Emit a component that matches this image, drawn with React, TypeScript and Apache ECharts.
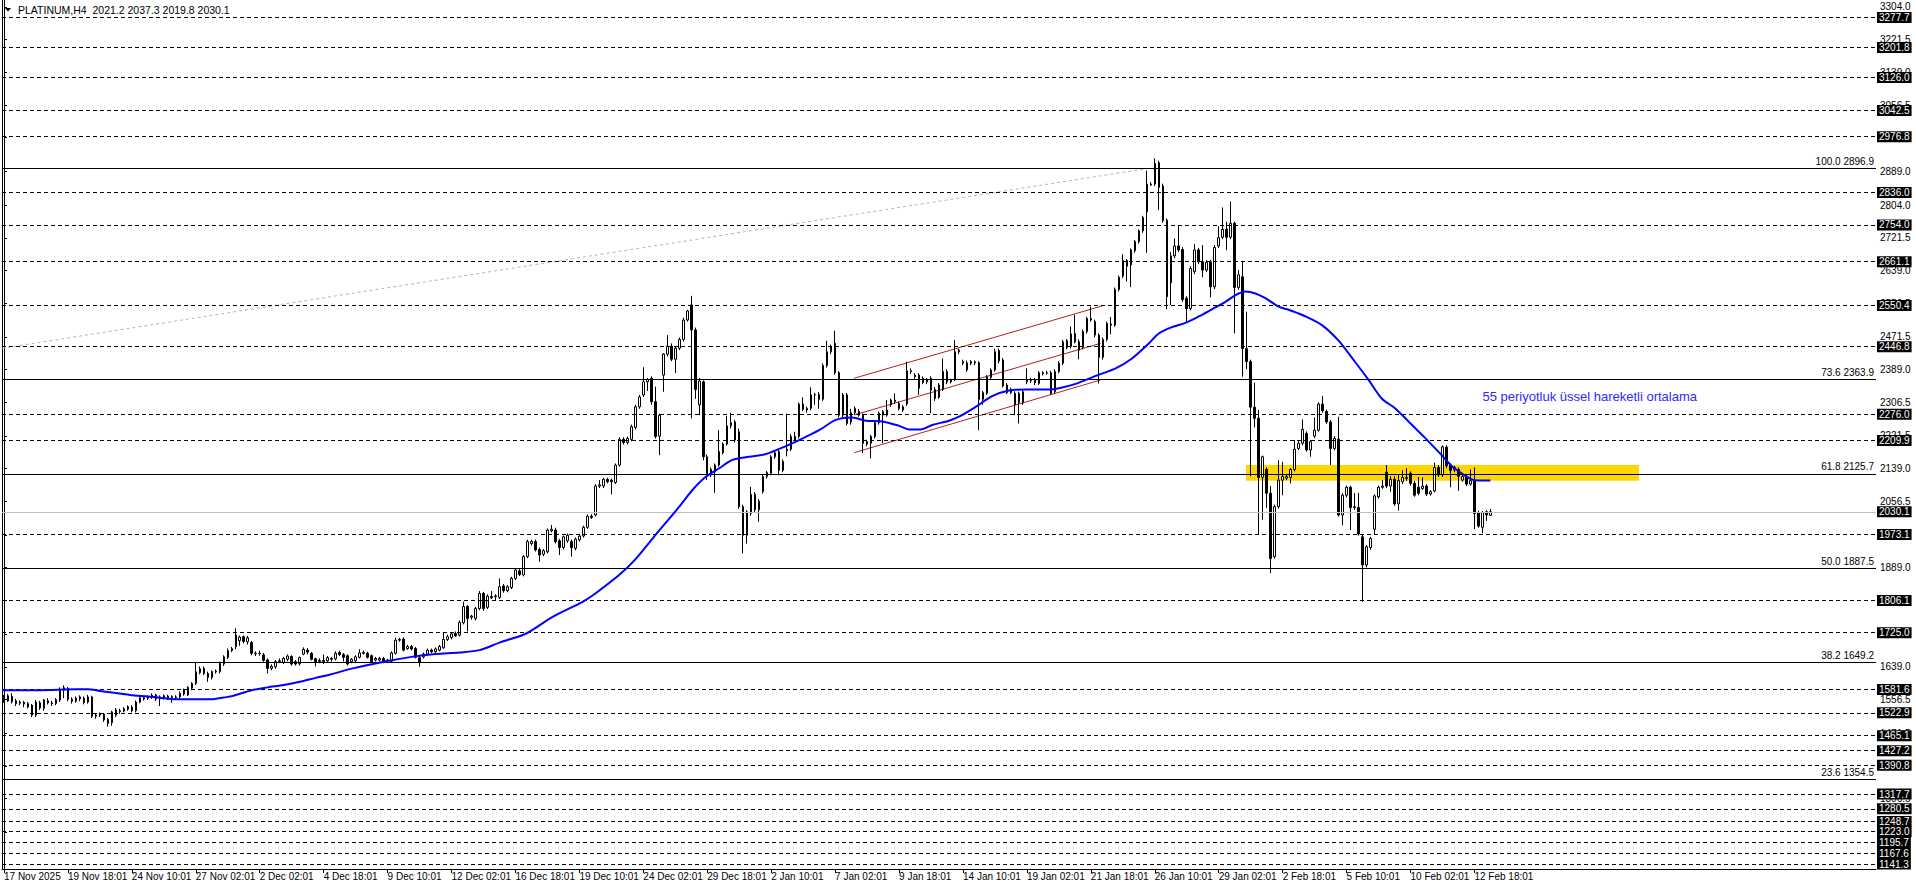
import React, { useEffect, useRef } from 'react';
import * as echarts from 'echarts';

const FONT = 'Liberation Sans, Arial, sans-serif';
const HEADER = 'PLATINUM,H4  2021.2 2037.3 2019.8 2030.1';
const EMA_NOTE = '55 periyotluk üssel hareketli ortalama';
const EMA_NOTE_AT: [number, number] = [370, 2322];

const N_SLOTS = 469; // bar slots across the chart width (data + empty right margin)
const LABEL_EVERY = 16;
const X_LABELS = [
  '17 Nov 2025', '19 Nov 18:01', '24 Nov 10:01', '27 Nov 02:01', '2 Dec 02:01', '4 Dec 18:01',
  '9 Dec 10:01', '12 Dec 02:01', '16 Dec 18:01', '19 Dec 10:01', '24 Dec 02:01', '29 Dec 18:01',
  '2 Jan 10:01', '7 Jan 02:01', '9 Jan 18:01', '14 Jan 10:01', '19 Jan 02:01', '21 Jan 18:01',
  '26 Jan 10:01', '29 Jan 02:01', '2 Feb 18:01', '5 Feb 10:01', '10 Feb 02:01', '12 Feb 18:01',
];

const Y_MIN = 1128.7;
const Y_MAX = 3321.6;
const Y_TICKS = [
  3304.0, 3221.5, 3139.0, 3056.5, 2974.0, 2889.0, 2804.0, 2721.5, 2639.0, 2556.5, 2471.5, 2389.0,
  2306.5, 2221.5, 2139.0, 2056.5, 1971.5, 1889.0, 1806.5, 1721.5, 1639.0, 1556.5, 1471.5, 1389.0,
  1306.5, 1221.5,
];

const DASHED_LEVELS = [
  3277.7, 3201.8, 3126.0, 3042.5, 2976.8, 2836.0, 2754.0, 2661.1, 2550.4, 2446.8, 2276.0, 2209.9,
  1973.1, 1806.1, 1725.0, 1581.6, 1522.9, 1465.1, 1427.2, 1390.8, 1317.7, 1280.5, 1248.7, 1223.0,
  1195.7, 1167.6, 1141.3,
];
const CURRENT_PRICE = 2030.1;

const FIB_RATIOS = ['100.0', '73.6', '61.8', '50.0', '38.2', '23.6'];
const FIB_PRICES = [2896.9, 2363.9, 2125.7, 1887.5, 1649.2, 1354.5];

const ZONE_X = [310.8, 409.2];
const ZONE_Y = [2108.7, 2148.2];

const FIB_DIAGONAL: [number, number][] = [[-0.5, 2442.7], [286.5, 2896.9]];
const CHANNEL_UPPER: [number, number][] = [[212.75, 2367.0], [274.8, 2549.5]];
const CHANNEL_MIDDLE: [number, number][] = [[212.75, 2274.4], [274.4, 2455.2]];
const CHANNEL_LOWER: [number, number][] = [[212.75, 2179.3], [274.4, 2362.7]];

// [open, high, low, close]
const OHLC: number[][] = [
  [1560, 1568, 1548, 1553], [1553, 1570, 1550, 1566], [1564, 1572, 1546, 1551], [1553, 1558, 1540, 1546],
  [1547, 1554, 1542, 1550], [1549, 1553, 1537, 1545], [1546, 1550, 1534, 1538], [1542, 1545, 1512, 1517],
  [1517, 1555, 1512, 1550], [1548, 1553, 1530, 1535], [1534, 1558, 1528, 1555], [1553, 1560, 1544, 1548],
  [1548, 1553, 1540, 1546], [1546, 1560, 1542, 1556], [1555, 1587, 1550, 1580], [1580, 1592, 1560, 1586],
  [1584, 1588, 1552, 1557], [1557, 1562, 1546, 1552], [1552, 1564, 1548, 1560], [1558, 1567, 1552, 1563],
  [1560, 1564, 1544, 1549], [1550, 1568, 1546, 1563], [1563, 1566, 1510, 1514], [1514, 1521, 1508, 1517],
  [1517, 1524, 1512, 1520], [1519, 1522, 1500, 1505], [1506, 1510, 1488, 1496], [1498, 1528, 1490, 1525],
  [1517, 1535, 1512, 1530], [1528, 1533, 1520, 1526], [1527, 1537, 1524, 1533], [1532, 1542, 1528, 1538],
  [1537, 1542, 1524, 1528], [1528, 1554, 1524, 1550], [1550, 1565, 1547, 1561], [1561, 1565, 1554, 1558],
  [1559, 1567, 1555, 1563], [1562, 1572, 1558, 1567], [1568, 1571, 1553, 1558], [1558, 1567, 1540, 1563],
  [1562, 1569, 1556, 1566], [1565, 1569, 1555, 1561], [1561, 1567, 1548, 1564], [1563, 1567, 1556, 1561],
  [1563, 1577, 1558, 1572], [1570, 1584, 1566, 1580], [1568, 1590, 1565, 1587], [1585, 1600, 1580, 1597],
  [1597, 1650, 1593, 1626], [1624, 1640, 1620, 1634], [1635, 1640, 1618, 1622], [1622, 1627, 1601, 1612],
  [1612, 1630, 1607, 1627], [1626, 1632, 1622, 1628], [1627, 1652, 1622, 1648], [1646, 1668, 1641, 1664],
  [1663, 1685, 1658, 1680], [1680, 1689, 1676, 1685], [1690, 1736, 1683, 1719], [1705, 1718, 1692, 1714],
  [1715, 1718, 1698, 1703], [1702, 1717, 1695, 1712], [1700, 1704, 1668, 1673], [1673, 1678, 1666, 1672],
  [1672, 1680, 1667, 1673], [1669, 1674, 1650, 1655], [1656, 1660, 1622, 1635], [1635, 1645, 1630, 1640],
  [1639, 1656, 1634, 1652], [1652, 1660, 1648, 1654], [1650, 1664, 1646, 1660], [1658, 1670, 1653, 1666],
  [1665, 1668, 1642, 1646], [1652, 1656, 1642, 1646], [1647, 1665, 1642, 1662], [1671, 1688, 1668, 1683],
  [1681, 1686, 1670, 1676], [1673, 1676, 1655, 1658], [1659, 1662, 1640, 1652], [1652, 1660, 1648, 1655],
  [1655, 1670, 1646, 1652], [1654, 1666, 1650, 1662], [1660, 1664, 1652, 1658], [1659, 1678, 1655, 1673],
  [1675, 1680, 1666, 1670], [1670, 1674, 1652, 1663], [1667, 1670, 1642, 1646], [1652, 1661, 1648, 1658],
  [1654, 1668, 1650, 1664], [1663, 1683, 1660, 1674], [1675, 1680, 1670, 1673], [1673, 1677, 1660, 1663],
  [1667, 1670, 1648, 1652], [1656, 1664, 1652, 1660], [1656, 1664, 1652, 1660], [1660, 1664, 1648, 1652],
  [1652, 1659, 1648, 1656], [1653, 1678, 1650, 1674], [1673, 1712, 1670, 1706], [1706, 1712, 1702, 1708],
  [1709, 1713, 1678, 1681], [1685, 1694, 1682, 1690], [1690, 1694, 1680, 1684], [1685, 1689, 1660, 1663],
  [1662, 1666, 1639, 1650], [1664, 1675, 1660, 1671], [1671, 1685, 1668, 1681], [1681, 1685, 1674, 1677],
  [1677, 1688, 1674, 1684], [1681, 1694, 1678, 1690], [1687, 1725, 1684, 1708], [1708, 1720, 1704, 1715],
  [1713, 1726, 1708, 1722], [1723, 1728, 1714, 1717], [1719, 1756, 1715, 1751], [1750, 1803, 1746, 1791],
  [1791, 1795, 1728, 1761], [1764, 1770, 1758, 1767], [1761, 1790, 1756, 1786], [1786, 1830, 1782, 1824],
  [1824, 1828, 1780, 1786], [1789, 1822, 1785, 1817], [1816, 1830, 1810, 1813], [1816, 1822, 1805, 1818],
  [1814, 1862, 1810, 1841], [1843, 1848, 1826, 1831], [1831, 1845, 1827, 1841], [1839, 1866, 1835, 1862],
  [1862, 1887, 1858, 1883], [1881, 1886, 1868, 1872], [1871, 1921, 1867, 1917], [1917, 1960, 1913, 1955],
  [1950, 1960, 1945, 1955], [1955, 1960, 1930, 1934], [1935, 1940, 1904, 1921], [1923, 1936, 1918, 1932],
  [1929, 1988, 1925, 1984], [1982, 1997, 1978, 1986], [1984, 1990, 1950, 1955], [1957, 1962, 1921, 1940],
  [1940, 1970, 1935, 1967], [1957, 1975, 1952, 1971], [1955, 1960, 1917, 1940], [1938, 1965, 1933, 1961],
  [1959, 1973, 1955, 1969], [1969, 1995, 1965, 1991], [1991, 2023, 1987, 2019], [2019, 2024, 2012, 2016],
  [2022, 2100, 2018, 2095], [2095, 2110, 2090, 2098], [2095, 2116, 2090, 2112], [2112, 2116, 2102, 2106],
  [2110, 2114, 2074, 2106], [2104, 2152, 2100, 2148], [2148, 2218, 2144, 2213], [2213, 2218, 2200, 2205],
  [2205, 2220, 2200, 2215], [2213, 2250, 2208, 2245], [2243, 2300, 2238, 2295], [2295, 2325, 2290, 2320],
  [2325, 2395, 2320, 2358], [2358, 2368, 2335, 2364], [2367, 2372, 2300, 2308], [2308, 2346, 2215, 2220],
  [2221, 2278, 2173, 2274], [2375, 2430, 2333, 2428], [2428, 2476, 2422, 2448], [2448, 2455, 2410, 2415],
  [2415, 2448, 2380, 2443], [2443, 2470, 2438, 2465], [2465, 2520, 2460, 2514], [2514, 2540, 2510, 2537],
  [2552, 2575, 2266, 2489], [2489, 2495, 2315, 2339], [2300, 2368, 2274, 2360], [2358, 2362, 2160, 2169],
  [2169, 2175, 2110, 2123], [2123, 2142, 2118, 2137], [2131, 2152, 2078, 2148], [2148, 2236, 2144, 2182],
  [2179, 2205, 2175, 2201], [2201, 2272, 2197, 2247], [2247, 2280, 2240, 2255], [2257, 2262, 2205, 2211],
  [2232, 2240, 2038, 2043], [2043, 2048, 1925, 1971], [1971, 2034, 1950, 2030], [2026, 2093, 2020, 2074],
  [2074, 2080, 2030, 2035], [2035, 2062, 2005, 2057], [2081, 2124, 2076, 2119], [2119, 2133, 2114, 2129],
  [2127, 2173, 2122, 2169], [2169, 2185, 2164, 2179], [2182, 2187, 2122, 2135], [2135, 2162, 2130, 2157],
  [2184, 2278, 2170, 2188], [2188, 2226, 2183, 2220], [2220, 2232, 2208, 2211], [2220, 2306, 2215, 2302],
  [2302, 2319, 2284, 2289], [2291, 2296, 2280, 2287], [2291, 2344, 2286, 2325], [2325, 2330, 2300, 2326],
  [2326, 2332, 2290, 2314], [2314, 2404, 2310, 2399], [2399, 2462, 2394, 2434], [2434, 2452, 2428, 2448],
  [2455, 2487, 2376, 2381], [2381, 2385, 2268, 2274], [2274, 2330, 2268, 2325], [2325, 2330, 2248, 2253],
  [2257, 2290, 2250, 2280], [2280, 2296, 2275, 2291], [2283, 2290, 2270, 2274], [2274, 2278, 2178, 2203],
  [2207, 2212, 2196, 2201], [2203, 2224, 2165, 2220], [2220, 2260, 2215, 2255], [2255, 2283, 2250, 2279],
  [2274, 2287, 2203, 2283], [2274, 2312, 2270, 2287], [2300, 2316, 2295, 2312], [2308, 2329, 2303, 2312],
  [2304, 2308, 2286, 2291], [2287, 2299, 2282, 2295], [2302, 2409, 2297, 2386], [2386, 2392, 2378, 2384],
  [2375, 2380, 2366, 2371], [2375, 2380, 2325, 2342], [2367, 2372, 2352, 2356], [2358, 2368, 2352, 2364],
  [2367, 2372, 2279, 2337], [2316, 2345, 2310, 2339], [2319, 2355, 2315, 2350], [2339, 2417, 2335, 2384],
  [2384, 2390, 2352, 2358], [2358, 2366, 2354, 2363], [2364, 2464, 2360, 2434], [2434, 2442, 2428, 2438],
  [2409, 2414, 2400, 2405], [2406, 2412, 2383, 2388], [2405, 2413, 2400, 2409], [2406, 2412, 2400, 2409],
  [2406, 2410, 2236, 2314], [2314, 2335, 2300, 2331], [2329, 2375, 2325, 2371], [2369, 2392, 2365, 2388],
  [2388, 2442, 2384, 2434], [2437, 2442, 2405, 2411], [2413, 2418, 2344, 2348], [2350, 2355, 2327, 2331],
  [2331, 2343, 2327, 2339], [2329, 2334, 2274, 2300], [2305, 2333, 2253, 2329], [2305, 2337, 2300, 2333],
  [2358, 2392, 2352, 2364], [2361, 2368, 2355, 2364], [2364, 2368, 2350, 2356], [2354, 2385, 2350, 2381],
  [2378, 2385, 2374, 2381], [2381, 2386, 2376, 2380], [2381, 2386, 2325, 2329], [2333, 2390, 2328, 2384],
  [2384, 2410, 2380, 2405], [2405, 2464, 2400, 2459], [2462, 2466, 2440, 2445], [2447, 2498, 2442, 2479],
  [2480, 2527, 2455, 2459], [2459, 2465, 2415, 2438], [2445, 2490, 2440, 2485], [2485, 2522, 2480, 2518],
  [2514, 2548, 2510, 2518], [2510, 2515, 2470, 2476], [2476, 2480, 2354, 2420], [2420, 2470, 2414, 2465],
  [2465, 2510, 2460, 2506], [2504, 2522, 2478, 2501], [2501, 2596, 2497, 2591], [2591, 2626, 2586, 2622],
  [2625, 2680, 2620, 2664], [2664, 2668, 2611, 2650], [2653, 2695, 2597, 2691], [2689, 2716, 2684, 2712],
  [2712, 2743, 2707, 2739], [2739, 2777, 2734, 2773], [2787, 2891, 2684, 2857], [2857, 2862, 2852, 2855],
  [2857, 2922, 2852, 2909], [2911, 2916, 2792, 2849], [2852, 2858, 2760, 2765], [2766, 2770, 2541, 2573],
  [2608, 2686, 2552, 2676], [2676, 2720, 2670, 2701], [2701, 2754, 2686, 2691], [2692, 2698, 2560, 2566],
  [2569, 2574, 2510, 2543], [2543, 2650, 2538, 2644], [2636, 2706, 2630, 2691], [2691, 2696, 2655, 2661],
  [2661, 2703, 2622, 2640], [2640, 2665, 2635, 2659], [2661, 2666, 2571, 2598], [2598, 2703, 2592, 2697],
  [2701, 2751, 2696, 2722], [2723, 2798, 2718, 2743], [2743, 2762, 2690, 2723], [2723, 2813, 2718, 2758],
  [2758, 2762, 2480, 2596], [2596, 2640, 2590, 2628], [2623, 2661, 2371, 2442], [2442, 2535, 2390, 2409],
  [2409, 2414, 2120, 2294], [2294, 2356, 2243, 2266], [2266, 2287, 1973, 2117], [2117, 2172, 2010, 2169],
  [2137, 2142, 2040, 2077], [2077, 2095, 1875, 1912], [1917, 2048, 1912, 2043], [2043, 2160, 2038, 2110],
  [2110, 2156, 2072, 2119], [2115, 2124, 2110, 2119], [2117, 2140, 2102, 2137], [2137, 2211, 2132, 2188],
  [2190, 2211, 2186, 2203], [2203, 2263, 2198, 2238], [2228, 2233, 2182, 2186], [2186, 2211, 2169, 2207],
  [2221, 2268, 2216, 2236], [2236, 2306, 2232, 2302], [2302, 2322, 2280, 2285], [2283, 2288, 2252, 2257],
  [2257, 2262, 2148, 2190], [2190, 2221, 2185, 2215], [2213, 2270, 2018, 2022], [2022, 2077, 1996, 2072],
  [2072, 2096, 2066, 2092], [2092, 2096, 1984, 2041], [2041, 2077, 2035, 2043], [2041, 2078, 1970, 1974],
  [1967, 1972, 1803, 1896], [1896, 1946, 1890, 1942], [1940, 1967, 1934, 1963], [1986, 2074, 1974, 2070],
  [2068, 2096, 2063, 2092], [2092, 2110, 2088, 2095], [2130, 2148, 2090, 2095], [2095, 2120, 2081, 2112],
  [2112, 2120, 2045, 2050], [2050, 2123, 2033, 2109], [2106, 2135, 2100, 2117], [2114, 2140, 2108, 2117],
  [2127, 2132, 2096, 2102], [2102, 2108, 2068, 2072], [2092, 2118, 2072, 2077], [2089, 2117, 2085, 2095],
  [2095, 2100, 2070, 2075], [2075, 2085, 2071, 2081], [2083, 2154, 2079, 2142], [2142, 2148, 2118, 2123],
  [2123, 2198, 2118, 2194], [2193, 2198, 2140, 2146], [2148, 2152, 2092, 2134], [2136, 2146, 2130, 2142],
  [2137, 2142, 2083, 2120], [2110, 2124, 2106, 2119], [2117, 2122, 2095, 2100], [2100, 2137, 2096, 2109],
  [2110, 2142, 1986, 2026], [2028, 2033, 1990, 1994], [1991, 2032, 1976, 2028], [2030, 2034, 2007, 2022],
  [2021.2, 2037.3, 2019.8, 2030.1],
];

// 55-period EMA: [bar position, value]
const EMA_55: [number, number][] = [
  [-0.5, 1580], [9, 1580], [18, 1582], [21, 1582], [24, 1578], [27, 1574], [31.5, 1568], [36, 1564],
  [39, 1561], [43, 1557], [47, 1557], [51.5, 1557], [54, 1560], [57, 1565], [62, 1580], [66, 1587],
  [70, 1593], [74, 1601], [78, 1611], [81.5, 1619], [87.3, 1635], [95.7, 1653], [102, 1664], [108, 1671],
  [114, 1675], [119, 1681], [124, 1700], [130.7, 1723], [137.3, 1765], [144.8, 1803], [148, 1824],
  [154, 1871], [158, 1910], [163, 1971], [169, 2043], [172.3, 2085], [175.7, 2119], [179, 2140],
  [182.3, 2161], [186.5, 2169], [190.7, 2176], [195.7, 2196], [199, 2211], [204, 2236], [208.2, 2262],
  [212.3, 2268], [215.7, 2260], [219.8, 2258], [224, 2247], [226.5, 2238], [229.4, 2238], [232.3, 2249],
  [236.5, 2260], [239, 2270], [243.2, 2295], [247.3, 2322], [251.5, 2336], [255.7, 2339], [261.5, 2339],
  [264, 2342], [268.2, 2353], [273.2, 2373], [278.2, 2392], [282.3, 2417], [286.5, 2455], [289, 2480],
  [292.3, 2496], [295.7, 2507], [299, 2523], [302.3, 2541], [305.7, 2560], [308.2, 2577], [310.7, 2586],
  [313.2, 2581], [315.7, 2569], [319, 2548], [322, 2538], [326, 2522], [330, 2500], [334, 2462],
  [338, 2410], [341.5, 2363], [344.8, 2316], [348.2, 2291], [351.5, 2258], [355.7, 2216], [359.8, 2173],
  [362.3, 2146], [364.8, 2127], [367.3, 2112], [369, 2109], [372, 2109],
];

export default function App() {
  const ref = useRef<HTMLDivElement>(null);

  useEffect(() => {
    document.body.style.margin = '0';
    const chart = echarts.init(ref.current!, null, { renderer: 'svg' });

    const slots = Array.from({ length: N_SLOTS }, (_, i) => String(i));
    const isLabelSlot = (i: number) => i % LABEL_EVERY === 0 && i / LABEL_EVERY < X_LABELS.length;
    const candleData = OHLC.map(([o, h, l, c]) => [o, c, l, h]);

    const boxLabel = {
      show: true,
      position: 'end',
      distance: 1,
      color: '#fff',
      backgroundColor: '#000',
      padding: [1, 2, 0, 2],
      fontSize: 10,
      fontFamily: FONT,
    };

    const levelLines: any[] = DASHED_LEVELS.map((v) => ({
      yAxis: v,
      lineStyle: { color: '#000', type: [4, 3], width: 1 },
      label: { ...boxLabel, formatter: v.toFixed(1) },
    }));
    const fibLines: any[] = FIB_PRICES.map((v, i) => ({
      yAxis: v,
      lineStyle: { color: '#000', type: 'solid', width: 1 },
      label: {
        show: true,
        position: 'insideEndTop',
        distance: 2,
        color: '#000',
        fontSize: 10,
        fontFamily: FONT,
        formatter: FIB_RATIOS[i] + ' ' + v.toFixed(1),
      },
    }));
    const currentLine = {
      yAxis: CURRENT_PRICE,
      lineStyle: { color: '#c0c0c0', type: 'solid', width: 1 },
      label: { ...boxLabel, formatter: CURRENT_PRICE.toFixed(1) },
    };

    const trendSeries = (data: [number, number][], color: string, type: any) => ({
      type: 'line',
      xAxisIndex: 1,
      yAxisIndex: 0,
      data,
      symbol: 'none',
      silent: true,
      z: 3,
      lineStyle: { color, width: 1, type },
    });

    chart.setOption({
      animation: false,
      backgroundColor: '#fff',
      grid: { left: 2, right: 40, top: 0, bottom: 19, containLabel: false },
      xAxis: [
        {
          type: 'category',
          data: slots,
          boundaryGap: true,
          axisLine: { show: true, lineStyle: { color: '#000', width: 1 } },
          axisTick: {
            show: true,
            interval: (i: number) => isLabelSlot(i),
            alignWithLabel: true,
            length: 4,
            lineStyle: { color: '#000' },
          },
          axisLabel: {
            show: true,
            interval: (i: number) => isLabelSlot(i),
            formatter: (v: string) => X_LABELS[Number(v) / LABEL_EVERY] ?? '',
            align: 'left',
            margin: 2,
            color: '#000',
            fontSize: 10,
            fontFamily: FONT,
          },
          splitLine: { show: false },
        },
        { type: 'value', min: -0.5, max: N_SLOTS - 0.5, show: false },
      ],
      yAxis: [
        {
          type: 'value',
          position: 'right',
          min: Y_MIN,
          max: Y_MAX,
          splitLine: { show: false },
          axisLine: { show: true, lineStyle: { color: '#000', width: 1 } },
          axisTick: { show: true, customValues: Y_TICKS, length: 3, lineStyle: { color: '#000' } },
          axisLabel: {
            show: true,
            customValues: Y_TICKS,
            formatter: (v: number) => v.toFixed(1),
            margin: 4,
            color: '#000',
            fontSize: 10,
            fontFamily: FONT,
          },
        },
        {
          type: 'value',
          position: 'left',
          min: Y_MIN,
          max: Y_MAX,
          splitLine: { show: false },
          axisLine: { show: true, lineStyle: { color: '#000', width: 1 } },
          axisTick: { show: false },
          axisLabel: { show: false },
        },
      ],
      series: [
        {
          type: 'line',
          xAxisIndex: 1,
          yAxisIndex: 0,
          data: [],
          silent: true,
          z: 1,
          markArea: {
            silent: true,
            z: 1,
            itemStyle: { color: '#FFD700', opacity: 1 },
            data: [[{ xAxis: ZONE_X[0], yAxis: ZONE_Y[1] }, { xAxis: ZONE_X[1], yAxis: ZONE_Y[0] }]],
          },
        },
        {
          type: 'line',
          xAxisIndex: 1,
          yAxisIndex: 0,
          data: [],
          silent: true,
          z: 2,
          markLine: {
            silent: true,
            symbol: ['none', 'none'],
            animation: false,
            data: [...levelLines, currentLine, ...fibLines],
          },
        },
        trendSeries(FIB_DIAGONAL, '#b4b4b4', [3, 3]),
        trendSeries(CHANNEL_UPPER, '#b22222', 'solid'),
        trendSeries(CHANNEL_MIDDLE, '#b22222', 'solid'),
        trendSeries(CHANNEL_LOWER, '#b22222', 'solid'),
        {
          type: 'candlestick',
          xAxisIndex: 0,
          yAxisIndex: 0,
          data: candleData,
          barWidth: 2,
          silent: true,
          z: 4,
          itemStyle: { color: '#fff', color0: '#000', borderColor: '#000', borderColor0: '#000', borderWidth: 1 },
        },
        {
          type: 'line',
          xAxisIndex: 1,
          yAxisIndex: 0,
          data: EMA_55,
          symbol: 'none',
          smooth: 0.3,
          silent: true,
          z: 5,
          lineStyle: { color: '#0000ff', width: 2 },
        },
      ],
    });

    const [tx, ty] = chart.convertToPixel({ seriesIndex: 7 }, EMA_NOTE_AT) as number[];
    chart.setOption({
      graphic: [
        {
          type: 'polygon',
          shape: { points: [[5, 8], [11, 8], [8, 11.5]] },
          style: { fill: '#000' },
          silent: true,
        },
        {
          type: 'text',
          x: 18,
          y: 10,
          style: { text: HEADER, fill: '#000', font: `10.5px ${FONT}`, verticalAlign: 'middle' },
          silent: true,
        },
        {
          type: 'text',
          x: tx,
          y: ty,
          style: { text: EMA_NOTE, fill: '#2b2bff', font: `13px ${FONT}`, verticalAlign: 'middle' },
          silent: true,
        },
      ],
    });

    return () => chart.dispose();
  }, []);

  return <div ref={ref} style={{ width: 1916, height: 888 }} />;
}
